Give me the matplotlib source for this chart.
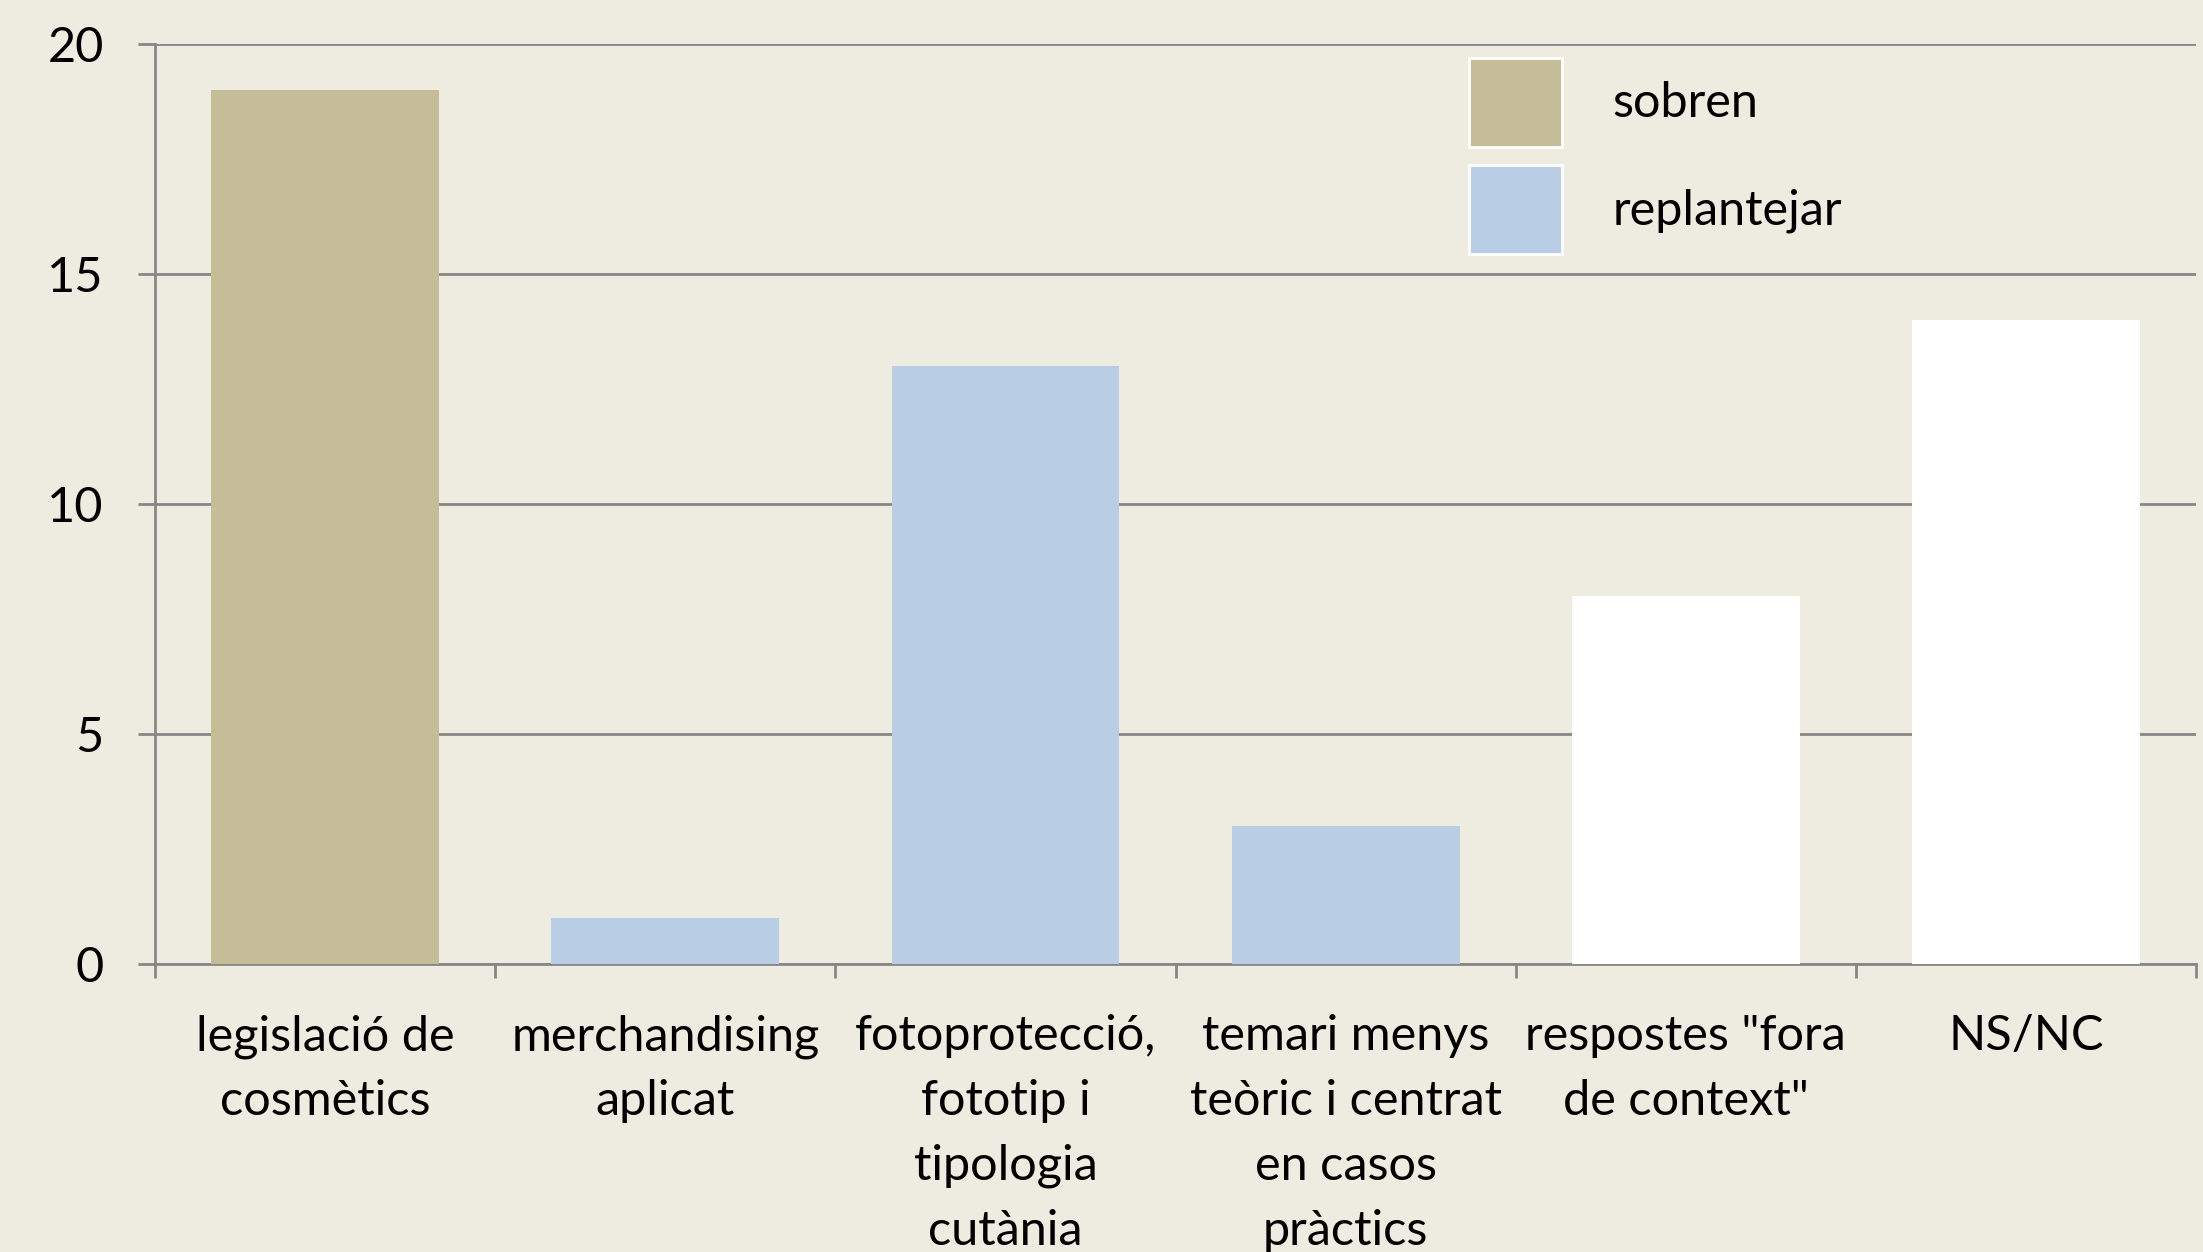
import matplotlib
matplotlib.use("Agg")
import matplotlib.pyplot as plt
from matplotlib.patches import Patch
import numpy as np

categories = [
    "legislació de\ncosmètics",
    "merchandising\naplicat",
    "fotoprotecció,\nfototip i\ntipologia\ncutània",
    "temari menys\nteòric i centrat\nen casos\npràctics",
    "respostes \"fora\nde context\"",
    "NS/NC",
]
values = [19, 1, 13, 3, 8, 14]
groups = ["sobren", "replantejar", "replantejar", "replantejar", None, None]
legend_labels = ["sobren", "replantejar"]
y_ticks = [0, 5, 10, 15, 20]

BG = "#EEECE1"
GRID = "#878787"
colors = {"sobren": "#C4BD97", "replantejar": "#B9CDE5", None: "#FFFFFF"}

plt.rcParams["font.family"] = ["Lato", "DejaVu Sans"]
FS = 35

fig = plt.figure(figsize=(22.03, 12.52), dpi=100, facecolor=BG)
ax = fig.add_axes([0.0704, 0.2300, 0.9264, 0.7349])
ax.set_facecolor(BG)

x = np.arange(len(categories))
ax.bar(x, values, width=0.67, color=[colors[g] for g in groups],
       edgecolor="none", zorder=3)

ax.set_xlim(-0.5, len(categories) - 0.5)
ax.set_ylim(0, 20)
ax.set_yticks(y_ticks)
ax.yaxis.grid(True, color=GRID, linewidth=2, zorder=0)
ax.set_axisbelow(True)

# boundaries get the tick marks, centres carry the labels
ax.set_xticks(np.arange(-0.5, len(categories), 1.0))
ax.set_xticklabels([])
ax.set_xticks(x, minor=True)
ax.set_xticklabels(categories, minor=True, fontsize=FS, linespacing=1.58)
ax.tick_params(axis="x", which="major", length=10, width=2, color=GRID)
ax.tick_params(axis="x", which="minor", length=0, pad=36)
ax.tick_params(axis="y", length=12, width=2, color=GRID, labelsize=FS, pad=25)

for side in ("top", "right"):
    ax.spines[side].set_visible(False)
for side in ("left", "bottom"):
    ax.spines[side].set_color(GRID)
    ax.spines[side].set_linewidth(2)

handles = [Patch(facecolor=colors[g], edgecolor="white", linewidth=2)
           for g in legend_labels]
ax.legend(handles, legend_labels, loc="upper left",
          bbox_to_anchor=(0.644, 0.985), frameon=False, fontsize=FS,
          handlelength=1.9, handleheight=2.44, labelspacing=0.37,
          handletextpad=1.05, borderpad=0, borderaxespad=0)

fig.savefig("out.png", dpi=100, facecolor=BG)
